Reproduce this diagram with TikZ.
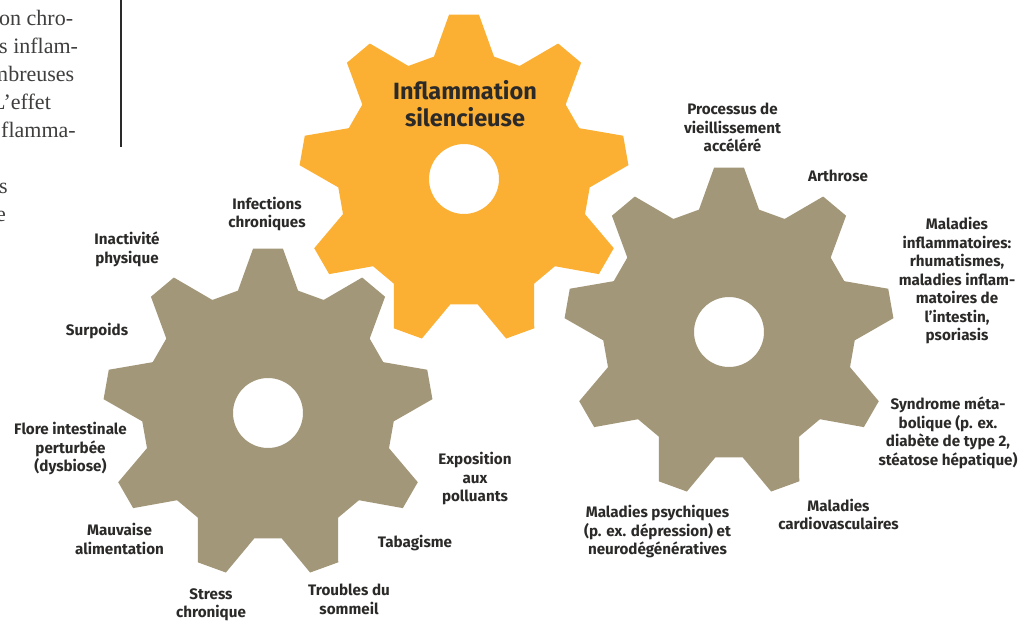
\documentclass[tikz,border=0pt]{standalone}
\usepackage{fontspec}
\setmainfont{Fira Sans}
\newfontfamily\parafont{Liberation Serif}
\definecolor{gearorange}{HTML}{FBB034}
\definecolor{geartan}{HTML}{A39779}
\definecolor{txtdark}{HTML}{2B2A29}
\tikzset{
  lbl/.style={font=\bfseries\fontsize{15.2}{18.5}\selectfont, align=center, text=txtdark, inner sep=0pt},
  biglbl/.style={font=\bfseries\fontsize{23.5}{26.7}\selectfont, align=center, text=txtdark, inner sep=0pt},
  paraline/.style={font=\parafont\fontsize{22}{28}\selectfont, text=txtdark!90, inner sep=0pt, anchor=base west},
}
% gear: #1 = centre x, #2 = centre y, #3 = colour
\newcommand\drawgear[3]{%
  \fill[#3, even odd rule]
    ({#1+126*cos(76.2)},{#2-126*sin(76.2)})
    \foreach \k in {0,...,8}{
      -- ({#1+126*cos(76.2+40*\k)},{#2-126*sin(76.2+40*\k)})
      -- ({#1+165*cos(84.8+40*\k)},{#2-165*sin(84.8+40*\k)})
      -- ({#1+165*cos(95.2+40*\k)},{#2-165*sin(95.2+40*\k)})
      -- ({#1+126*cos(103.8+40*\k)},{#2-126*sin(103.8+40*\k)})
    } -- cycle
    (#1,#2) circle[radius=35];%
}
\begin{document}
\begin{tikzpicture}[x=1pt,y=-1pt]
\useasboundingbox (0,0) rectangle (1030,622);
\begin{scope}
\clip (0,0) rectangle (1030,622);
\fill[white] (0,0) rectangle (1030,622);

% paragraph fragment at top left
\node[paraline] (p1) at (-1,25) {on chro-};
\node[paraline] (p2) at (-1,53) {s inflam-};
\node[paraline] (p3) at (-9,81) {mbreuses};
\node[paraline] (p4) at (-8,109) {L’effet};
\node[paraline] (p5) at (1,137) {flamma-};
\node[paraline] (p6) at (-1,193) {s};
\node[paraline] (p7) at (-4,221) {e};
\coordinate (rtop) at (121,0);
\coordinate (rbot) at (121,147);
\draw[txtdark, line width=1.1pt] (rtop) -- (rbot);

% gears
\drawgear{464}{179}{gearorange}
\drawgear{268}{413}{geartan}
\drawgear{729}{332}{geartan}

% central label
\node[biglbl] (central) at (465,104) {Inflammation\\silencieuse};

% causes
\node[lbl] (infect) at (267,214) {Infections\\chroniques};
\node[lbl] (inact) at (127,249.5) {Inactivité\\physique};
\node[lbl] (surp) at (97,331) {Surpoids};
\node[lbl] (flore) at (70.5,449) {Flore intestinale\\perturbée\\(dysbiose)};
\node[lbl] (mauv) at (119.5,539) {Mauvaise\\alimentation};
\node[lbl] (stress) at (211,605) {Stress\\chronique};
\node[lbl] (troub) at (349,599.5) {Troubles du\\sommeil};
\node[lbl] (tabac) at (415,543) {Tabagisme};
\node[lbl] (expo) at (475,479) {Exposition\\aux\\polluants};

% consequences
\node[lbl] (vieil) at (732.5,127.5) {Processus de\\vieillissement\\accéléré};
\node[lbl] (arth) at (838,176) {Arthrose};
\node[lbl] (inflam) at (957,281) {Maladies\\inflammatoires:\\rhumatismes,\\maladies inflam-\\matoires de\\l’intestin,\\psoriasis};
\node[lbl] (synd) at (948,433) {Syndrome méta-\\bolique (p. ex.\\diabète de type 2,\\stéatose hépatique)};
\node[lbl] (cardio) at (838.5,514.5) {Maladies\\cardiovasculaires};
\node[lbl] (psych) at (657.5,532) {Maladies psychiques\\(p. ex. dépression) et\\neurodégénératives};
\end{scope}
\end{tikzpicture}
\end{document}
